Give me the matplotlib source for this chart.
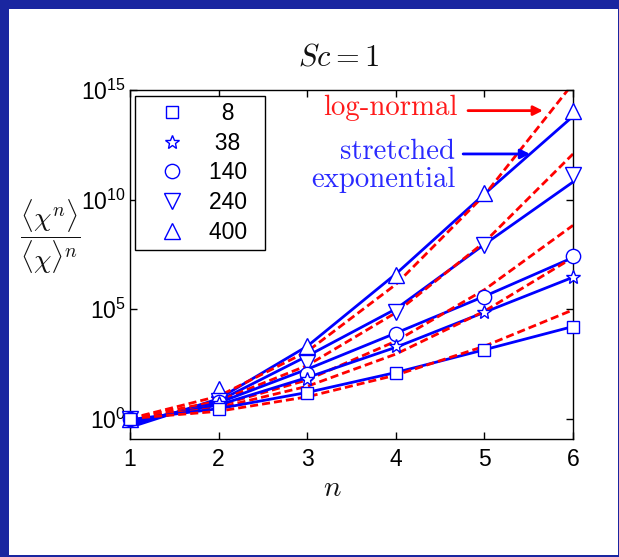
import numpy as np
import matplotlib
matplotlib.use('Agg')
import matplotlib.pyplot as plt
from matplotlib.patches import Rectangle
from matplotlib.ticker import FixedLocator, FuncFormatter, NullLocator

plt.rcParams['mathtext.fontset'] = 'cm'
plt.rcParams['font.family'] = ['Liberation Sans', 'DejaVu Sans']

n = [1, 2, 3, 4, 5, 6]
sc_labels = ['8', '38', '140', '240', '400']
# labels padded with figure spaces so the numbers sit centred in the legend
legend_labels = ['\u20078\u2007\u2002', '\u200538\u2005\u2002', '140\u2002',
                 '240\u2002', '400\u2002']
markers = ['s', '*', 'o', 'v', '^']
marker_sizes = [8.3, 10.5, 10.3, 11.5, 11.5]

# log10 of <chi^n>/<chi>^n for each Sc
log_moments = [
    [0.0, 0.42, 1.18, 2.10, 3.13, 4.20],
    [0.0, 0.70, 1.80, 3.30, 4.88, 6.48],
    [0.0, 0.75, 2.05, 3.85, 5.57, 7.40],
    [0.0, 0.80, 2.55, 4.85, 7.94, 11.14],
    [0.0, 1.34, 3.30, 6.56, 10.30, 14.05],
]
# stretched exponential fits
log_stretched = [
    [-0.05, 0.45, 1.19, 2.10, 3.14, 4.20],
    [-0.15, 0.62, 1.87, 3.25, 4.85, 6.45],
    [-0.20, 0.72, 2.25, 3.90, 5.58, 7.35],
    [-0.30, 0.80, 2.85, 5.00, 7.95, 10.80],
    [-0.40, 0.90, 3.30, 6.60, 10.25, 13.80],
]
# log-normal fits
log_lognormal = [
    [0.0, 0.33, 0.99, 1.98, 3.30, 4.96],
    [0.0, 0.49, 1.47, 2.94, 4.90, 7.35],
    [0.0, 0.59, 1.76, 3.53, 5.88, 8.82],
    [0.0, 0.80, 2.42, 4.83, 8.05, 12.08],
    [0.0, 1.02, 3.06, 6.12, 10.20, 15.30],
]

blue = '#0000ff'
red = '#ff0000'

fig = plt.figure(figsize=(6.19, 5.57), dpi=100)
fig.patch.set_facecolor('#1a26a0')
fig.add_artist(Rectangle((0.0145, 0.0036), 0.9834, 0.9802, transform=fig.transFigure,
                         facecolor='white', edgecolor='none', zorder=-1))

ax = fig.add_axes([0.210, 0.2111, 0.7157, 0.6273])

for i in reversed(range(len(sc_labels))):
    ax.plot(n, 10 ** np.array(log_stretched[i]), '-', color=blue, lw=2, zorder=2)
    ax.plot(n, 10 ** np.array(log_lognormal[i]), '--', color=red, lw=2,
            dashes=(2.9, 1.45), zorder=2)

handles = []
for i in reversed(range(len(sc_labels))):
    h, = ax.plot(n, 10 ** np.array(log_moments[i]), ls='none', marker=markers[i],
                 ms=marker_sizes[i], mfc='white', mec=blue, mew=1.0, zorder=3,
                 clip_on=False, label=legend_labels[i])
    handles.append(h)
handles = handles[::-1]

ax.set_yscale('log')
ax.set_xlim(1, 6)
ax.set_ylim(10 ** -0.955, 1e15)
ax.set_xticks(n)
ax.yaxis.set_major_locator(FixedLocator([1e0, 1e5, 1e10, 1e15]))
ax.yaxis.set_minor_locator(NullLocator())
ax.yaxis.set_major_formatter(
    FuncFormatter(lambda v, p: r'$\mathregular{10^{%d}}$' % round(np.log10(v))))
ax.tick_params(direction='in', length=5, width=1, top=True, right=True,
               labelsize=16.5, color='black')
ax.tick_params(axis='y', pad=3)
ax.tick_params(axis='x', pad=6)
for s in ax.spines.values():
    s.set_linewidth(1.0)

leg = ax.legend(handles=handles, loc='upper left', bbox_to_anchor=(0.0113, 0.983),
                borderaxespad=0, fontsize=16.5, frameon=True, fancybox=False,
                framealpha=1, edgecolor='black', borderpad=0.25, handlelength=2.75,
                handletextpad=0.25, labelspacing=0.3)
leg.get_frame().set_linewidth(1.0)

ax.text(0.47, 1.092, r'$Sc=1$', transform=ax.transAxes, ha='center', va='center',
        fontsize=22, color='#111111')
fig.text(332 / 619, 1 - 488 / 557, r'$n$', ha='center', va='center', fontsize=21,
         color='#111111')
fig.text(50 / 619, 1 - 237 / 557, r'$\dfrac{\langle\chi^n\rangle}{\langle\chi\rangle^n}$',
         ha='center', va='center', fontsize=20, color='#111111')

ax.text(0.740, 0.948, 'log-normal', transform=ax.transAxes, ha='right', va='center',
        color='#ff1a1a', fontsize=20.8, family='cmr10')
ax.annotate('', xy=(0.932, 0.941), xytext=(0.763, 0.941), xycoords='axes fraction',
            arrowprops=dict(arrowstyle='-|>', color=red, lw=2, mutation_scale=14,
                            shrinkA=0, shrinkB=0))
ax.text(0.734, 0.8226, 'stretched', transform=ax.transAxes, ha='right', va='center',
        color='#2a2aff', fontsize=20.7, family='cmr10')
ax.text(0.734, 0.742, 'exponential', transform=ax.transAxes, ha='right', va='center',
        color='#2a2aff', fontsize=20.7, family='cmr10')
ax.annotate('', xy=(0.903, 0.817), xytext=(0.752, 0.817), xycoords='axes fraction',
            arrowprops=dict(arrowstyle='-|>', color=blue, lw=2, mutation_scale=14,
                            shrinkA=0, shrinkB=0))

fig.savefig('out.png', dpi=100, facecolor=fig.get_facecolor())
